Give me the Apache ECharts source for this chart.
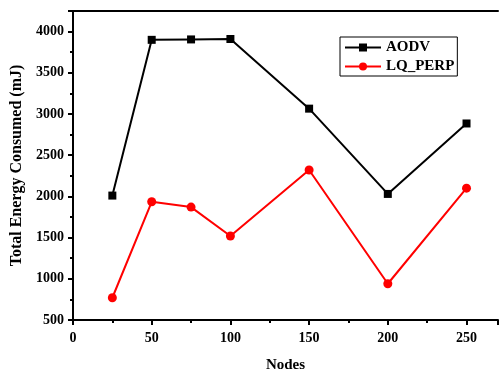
<!DOCTYPE html>
<html><head><meta charset="utf-8">
<script src="https://cdn.jsdelivr.net/npm/echarts@6/dist/echarts.min.js"></script>
<style>html,body{margin:0;padding:0;background:#fff}#c{width:499px;height:374px}</style>
</head><body><div id="c"></div>
<script>
const nodes = [25, 50, 75, 100, 150, 200, 250];
const aodv = [2010, 3900, 3905, 3910, 3065, 2030, 2885];
const lqPerp = [770, 1935, 1870, 1520, 2320, 940, 2100];
const seriesNames = ['AODV', 'LQ_PERP'];

const font = '"Liberation Serif", "Times New Roman", serif';
const chart = echarts.init(document.getElementById('c'));
const axisCommon = {
  axisLine: {show: true, lineStyle: {color: '#000', width: 2}},
  axisTick: {show: true, inside: false, length: 5, lineStyle: {color: '#000', width: 2}},
  minorTick: {show: true, splitNumber: 2, length: 3, lineStyle: {color: '#000', width: 2}},
  splitLine: {show: false},
  axisLabel: {color: '#000', fontFamily: font, fontWeight: 'bold', fontSize: 14, formatter: v => String(v)}
};
chart.setOption({
  animation: false,
  backgroundColor: '#fff',
  grid: {left: 73, right: 1, top: 11, bottom: 54, containLabel: false, outerBoundsMode: 'none'},
  legend: {
    data: seriesNames,
    left: 340, top: 37, orient: 'vertical',
    itemWidth: 36, itemHeight: 10, itemGap: 4,
    padding: [3, 3, 2, 4],
    borderColor: '#000', borderWidth: 1,
    textStyle: {fontFamily: font, fontWeight: 'bold', fontSize: 15, color: '#000'}
  },
  xAxis: [{
    type: 'value', min: 0, max: 270, interval: 50,
    name: 'Nodes', nameLocation: 'middle', nameGap: 38,
    nameTextStyle: {fontFamily: font, fontWeight: 'bold', fontSize: 15, color: '#000'},
    ...axisCommon,
    axisLabel: {...axisCommon.axisLabel, margin: 11, showMaxLabel: false}
  }, {
    type: 'value', min: 0, max: 270, position: 'top',
    axisLine: {show: true, onZero: false, lineStyle: {color: '#000', width: 2}},
    axisTick: {show: false}, axisLabel: {show: false}, splitLine: {show: false}
  }],
  yAxis: {
    type: 'value', min: 500, max: 4250, interval: 500,
    name: 'Total Energy Consumed (mJ)', nameLocation: 'middle', nameGap: 46,
    nameTextStyle: {fontFamily: font, fontWeight: 'bold', fontSize: 16, color: '#000'},
    ...axisCommon,
    axisLabel: {...axisCommon.axisLabel, margin: 9, showMaxLabel: false}
  },
  series: [{
    name: seriesNames[0], type: 'line',
    data: nodes.map((n, i) => [n, aodv[i]]),
    symbol: 'rect', symbolSize: 8,
    lineStyle: {color: '#000', width: 2},
    itemStyle: {color: '#000'}
  }, {
    name: seriesNames[1], type: 'line',
    data: nodes.map((n, i) => [n, lqPerp[i]]),
    symbol: 'circle', symbolSize: 9,
    lineStyle: {color: '#ff0000', width: 2},
    itemStyle: {color: '#ff0000'}
  }]
});
</script></body></html>
